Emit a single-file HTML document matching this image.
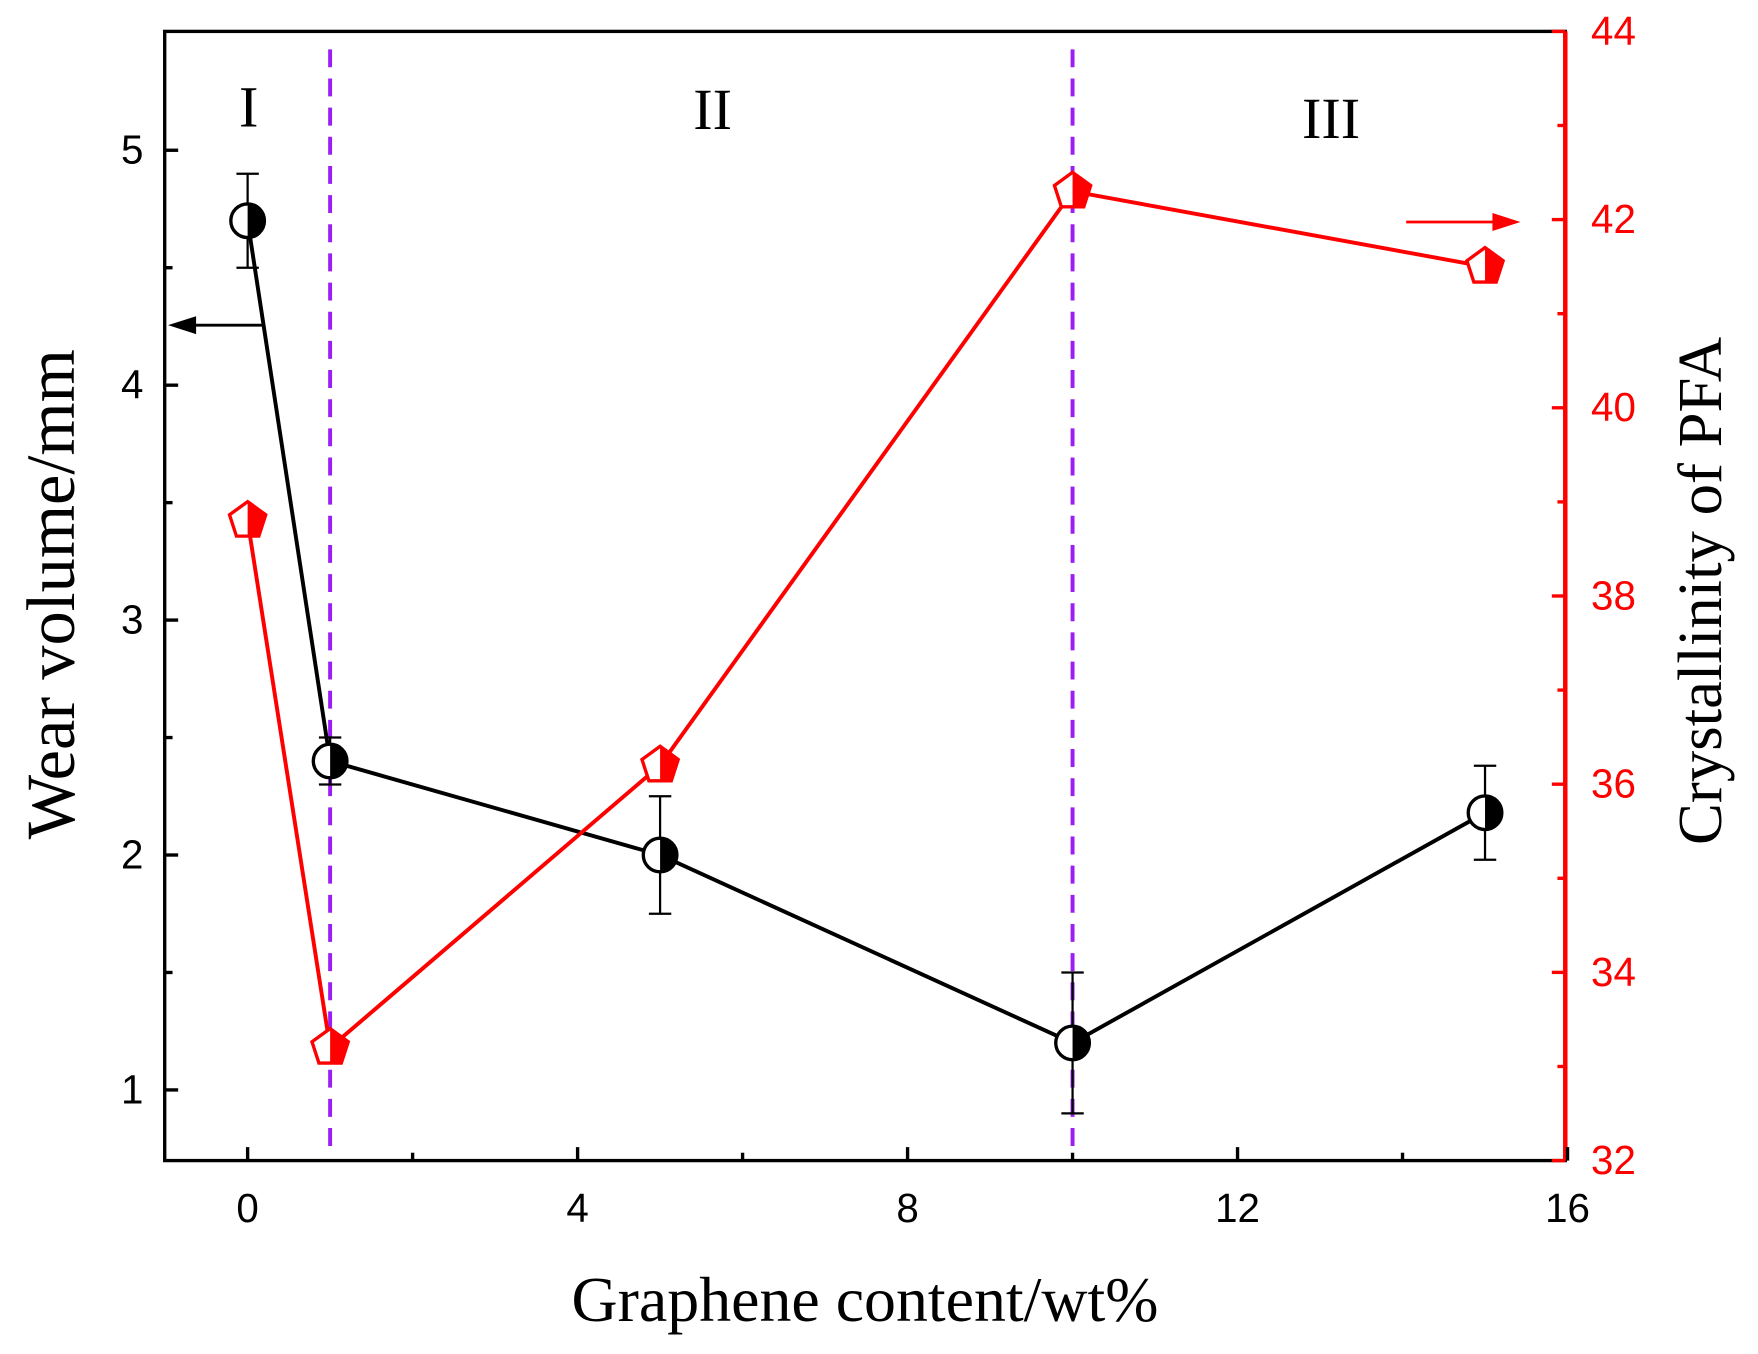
<!DOCTYPE html>
<html><head><meta charset="utf-8"><style>html,body{margin:0;padding:0;background:#fff}svg{display:block}</style></head>
<body>
<svg id="chart" width="1758" height="1354" viewBox="0 0 1569 1207.5" preserveAspectRatio="none" xmlns="http://www.w3.org/2000/svg"></svg>
<script>
const xValues=[0,1,5,10,15];
const wearValues=[4.7,2.4,2.0,1.2,2.18];
const wearLow=[4.5,2.3,1.75,0.9,1.98];
const wearHigh=[4.9,2.5,2.25,1.5,2.38];
const crystValues=[38.8,33.2,36.2,42.3,41.5];
const xTicks=[0,4,8,12,16];
const yLeftTicks=[1,2,3,4,5];
const yRightTicks=[32,34,36,38,40,42,44];
const regionLines=[1,10];

const NS="http://www.w3.org/2000/svg";
const svg=document.getElementById('chart');
const L=147,R=1397,T=28,B=1035;
const sx=v=>221+(v-0)*(1399-221)/16;
const syL=v=>134+(5-v)*(972-134)/4;
const syR=v=>28+(44-v)*(1035-28)/12;
function el(tag,attrs,parent){const e=document.createElementNS(NS,tag);for(const k in attrs)e.setAttribute(k,attrs[k]);(parent||svg).appendChild(e);return e;}

let f=el('rect',{x:L,y:T,width:R-L,height:B-T,fill:'none',stroke:'#000','stroke-width':3});

let ra=el('line',{x1:R,y1:T,x2:R,y2:B,stroke:'#f00','stroke-width':4});


xTicks.forEach(v=>{
  el('line',{x1:sx(v),y1:B,x2:sx(v),y2:B-12,stroke:'#000','stroke-width':3});
  const t=el('text',{x:sx(v),y:B+55,'text-anchor':'middle','font-size':36,'font-family':'Liberation Sans, sans-serif'});t.textContent=v;
  
});
for(let v=2;v<16;v+=4){el('line',{x1:sx(v),y1:B,x2:sx(v),y2:B-7,stroke:'#000','stroke-width':3});}
yLeftTicks.forEach(v=>{
  el('line',{x1:L,y1:syL(v),x2:L+12,y2:syL(v),stroke:'#000','stroke-width':3});
  const t=el('text',{x:128,y:syL(v)+12,'text-anchor':'end','font-size':36,'font-family':'Liberation Sans, sans-serif'});t.textContent=v;
  
});
for(let v=1.5;v<5.5;v+=1){el('line',{x1:L,y1:syL(v),x2:L+7,y2:syL(v),stroke:'#000','stroke-width':3});}
yRightTicks.forEach(v=>{
  el('line',{x1:R,y1:syR(v),x2:R-12,y2:syR(v),stroke:'#f00','stroke-width':3});
  const t=el('text',{x:1420,y:syR(v)+12,'font-size':36,fill:'#f00','font-family':'Liberation Sans, sans-serif'});t.textContent=v;
  
});
for(let v=33;v<44;v+=2){el('line',{x1:R,y1:syR(v),x2:R-7,y2:syR(v),stroke:'#f00','stroke-width':3});}

regionLines.forEach(v=>{
  const l=el('line',{x1:sx(v),y1:T+16,x2:sx(v),y2:B-6,stroke:'#9b1ff5','stroke-width':3.5,'stroke-dasharray':'16,10'});
  
});
[['I',222,95],['II',636,97],['III',1188,105]].forEach(r=>{
  const t=el('text',{x:r[1],y:r[2]+18,'text-anchor':'middle','font-size':52,'font-family':'Liberation Serif, serif'});t.textContent=r[0];
  
});

let p=el('polyline',{points:xValues.map((x,i)=>sx(x)+','+syL(wearValues[i])).join(' '),fill:'none',stroke:'#000','stroke-width':3.5});

xValues.forEach((x,i)=>{
  const cx=sx(x);
  el('line',{x1:cx,y1:syL(wearLow[i]),x2:cx,y2:syL(wearHigh[i]),stroke:'#000','stroke-width':2});
  el('line',{x1:cx-10,y1:syL(wearLow[i]),x2:cx+10,y2:syL(wearLow[i]),stroke:'#000','stroke-width':2});
  el('line',{x1:cx-10,y1:syL(wearHigh[i]),x2:cx+10,y2:syL(wearHigh[i]),stroke:'#000','stroke-width':2});
  const g=el('g',{});
  
  const cy=syL(wearValues[i]);
  el('circle',{cx:cx,cy:cy,r:15,fill:'#fff',stroke:'#000','stroke-width':3},g);
  el('path',{d:`M${cx},${cy-15} A15,15 0 0 1 ${cx},${cy+15} Z`,fill:'#000'},g);
});

let q=el('polyline',{points:xValues.map((x,i)=>sx(x)+','+syR(crystValues[i])).join(' '),fill:'none',stroke:'#f00','stroke-width':3.5});

xValues.forEach((x,i)=>{
  const cx=sx(x),cy=syR(crystValues[i]),r=17;
  const pts=[];for(let k=0;k<5;k++){const a=-Math.PI/2+k*2*Math.PI/5;pts.push([cx+r*Math.cos(a),cy+r*Math.sin(a)]);}
  const g=el('g',{});
  
  el('polygon',{points:pts.map(p=>p.join(',')).join(' '),fill:'#fff',stroke:'#f00','stroke-width':3},g);
  el('polygon',{points:[[cx,cy-r],pts[1],pts[2],[cx,pts[2][1]]].map(p=>p.join(',')).join(' '),fill:'#f00'},g);
});

let a1=el('g',{});
el('line',{x1:235,y1:290,x2:165,y2:290,stroke:'#000','stroke-width':2.5},a1);
el('polygon',{points:'150,290 175,282 175,298',fill:'#000'},a1);
let a2=el('g',{});
el('line',{x1:1255,y1:198,x2:1340,y2:198,stroke:'#f00','stroke-width':2.5},a2);
el('polygon',{points:'1357,198 1332,190 1332,206',fill:'#f00'},a2);

let xt=el('text',{x:772,y:1178,'text-anchor':'middle','font-size':57,'font-family':'Liberation Serif, serif'});xt.textContent='Graphene content/wt%';

let yt=el('text',{x:0,y:0,'text-anchor':'middle','font-size':61,'font-family':'Liberation Serif, serif',transform:'translate(66,530) rotate(-90)'});yt.textContent='Wear volume/mm';

let yr=el('text',{x:0,y:0,'text-anchor':'middle','font-size':56,'font-family':'Liberation Serif, serif',transform:'translate(1536,527) rotate(-90)'});yr.textContent='Crystallinity of PFA';

</script>
</body></html>
